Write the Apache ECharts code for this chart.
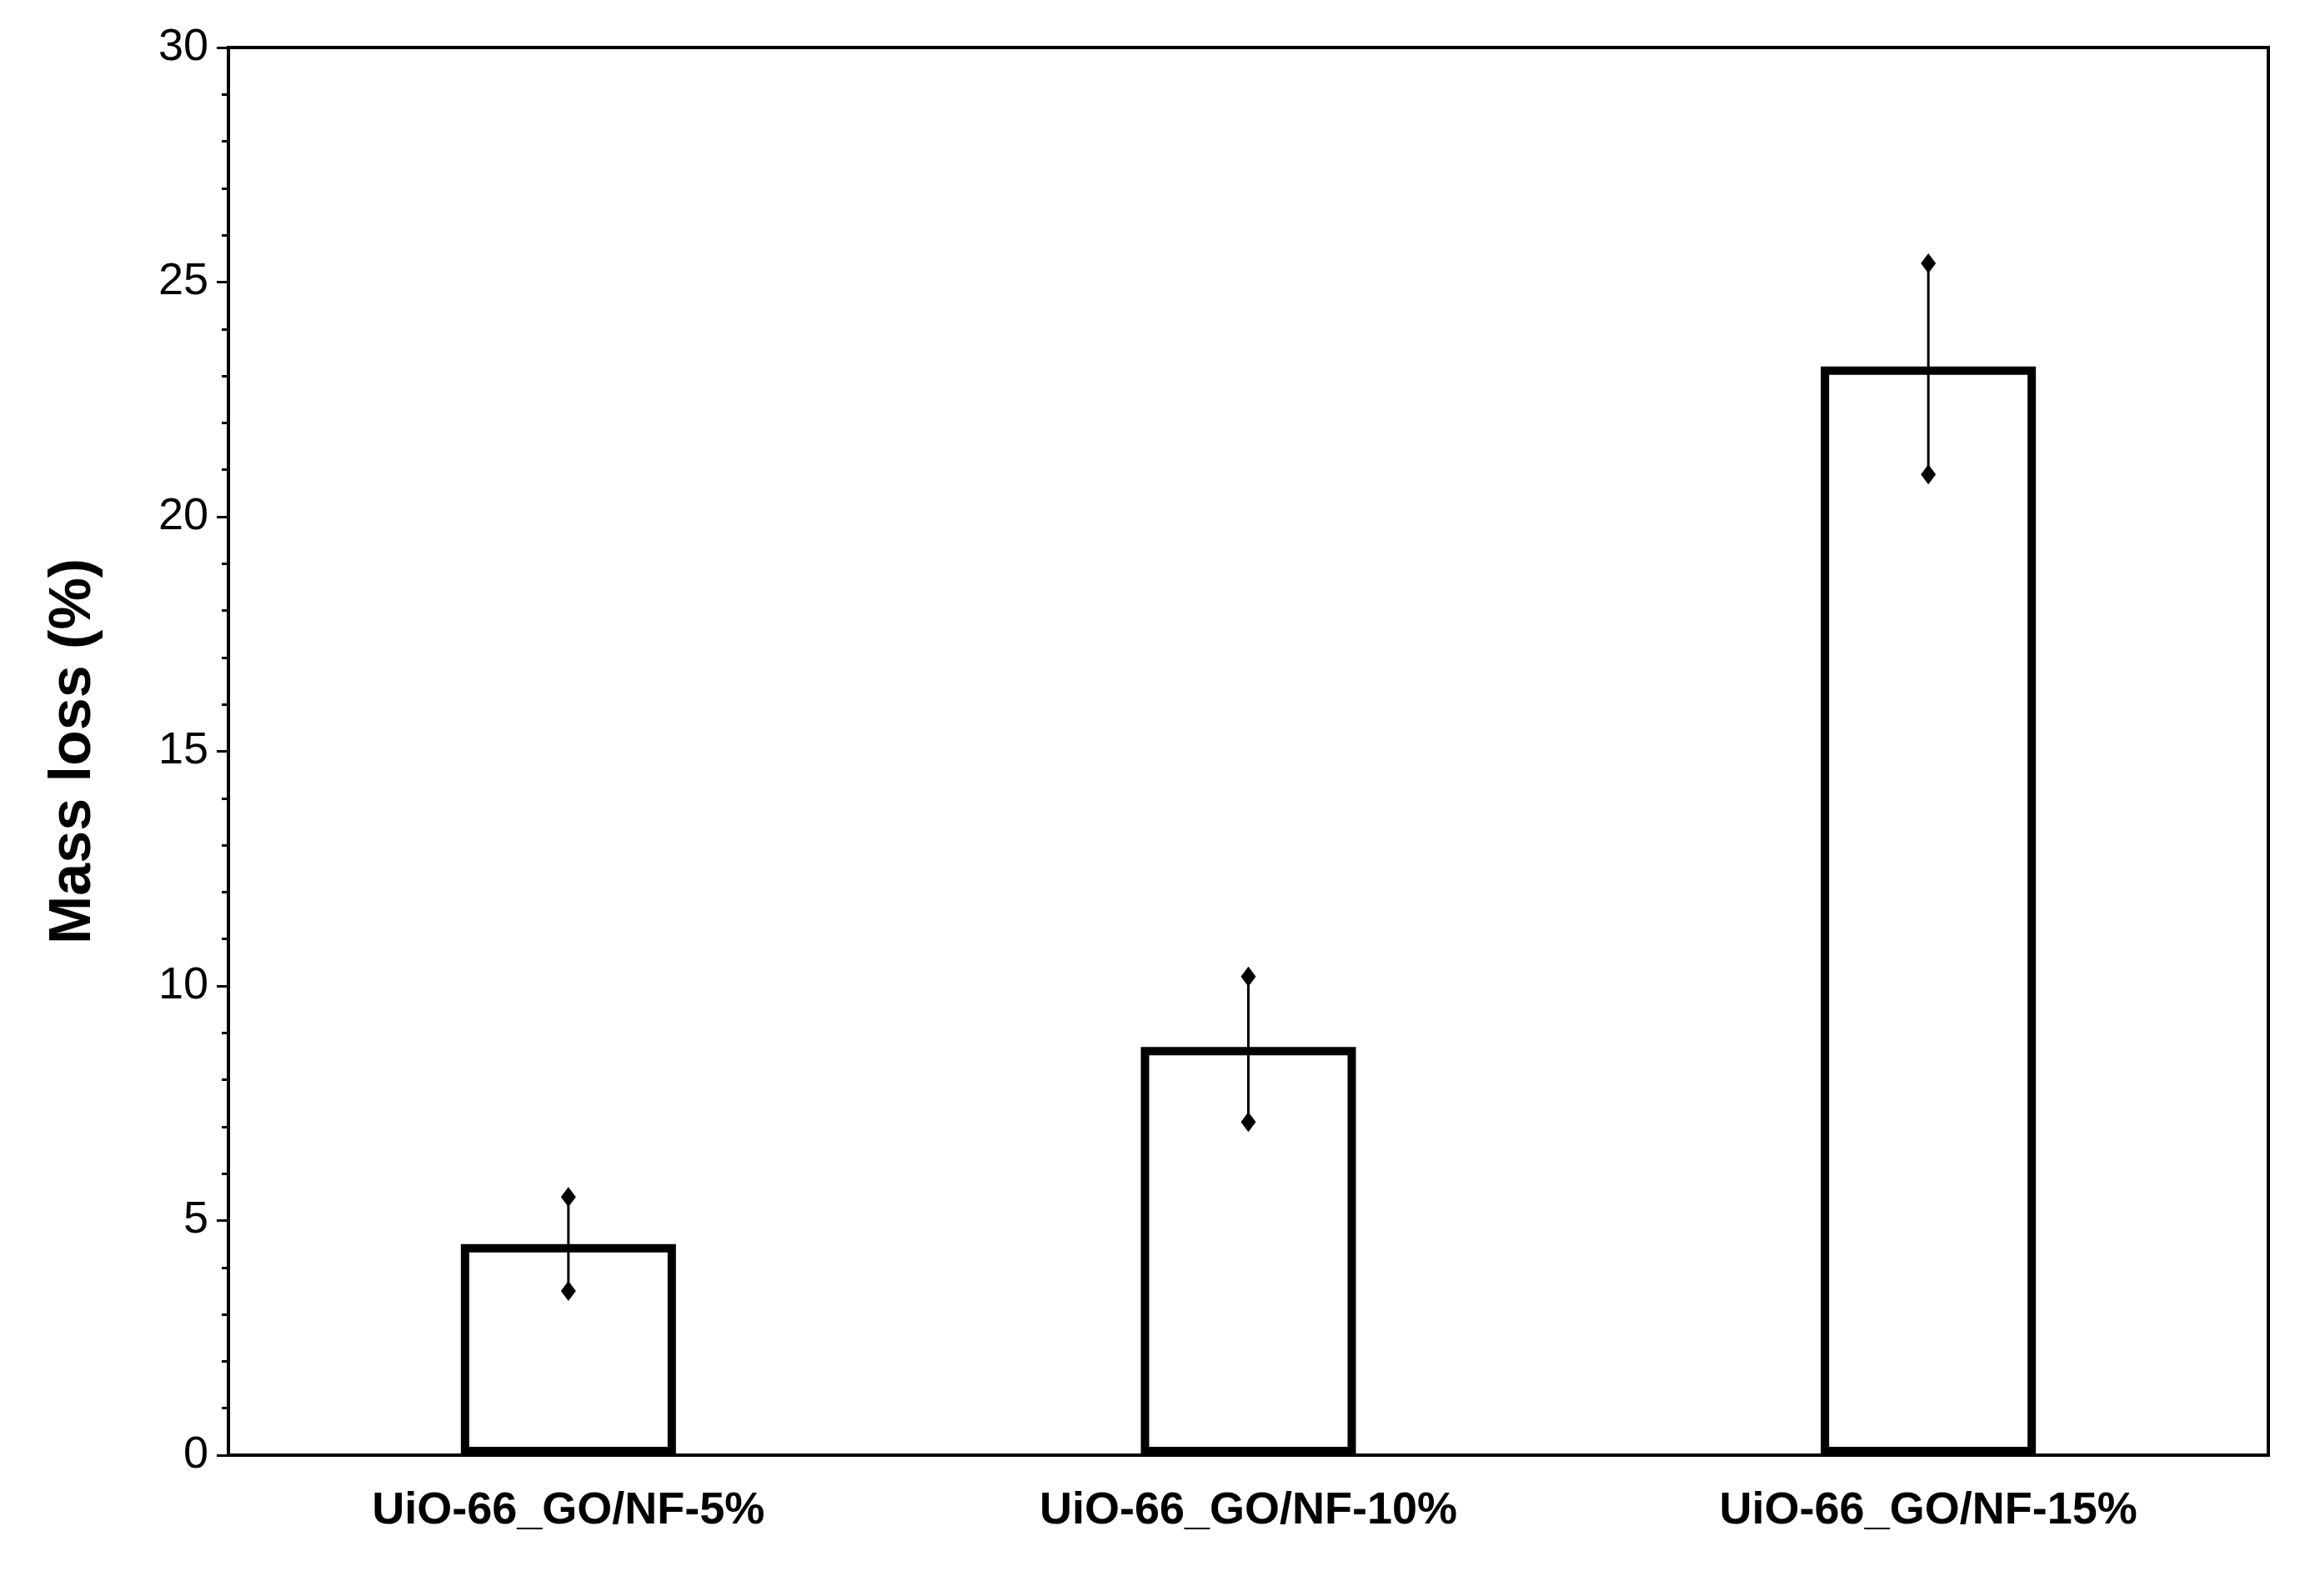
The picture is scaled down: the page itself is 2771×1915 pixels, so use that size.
<!DOCTYPE html>
<html>
<head>
<meta charset="utf-8">
<script src="https://cdn.jsdelivr.net/npm/echarts@6/dist/echarts.min.js"></script>
<style>
html, body { margin: 0; padding: 0; background: #fff; }
#chart { width: 2771px; height: 1915px; }
</style>
</head>
<body>
<div id="chart"></div>
<script>
var categories = ['UiO-66_GO/NF-5%', 'UiO-66_GO/NF-10%', 'UiO-66_GO/NF-15%'];
var massLoss = [4.5, 8.7, 23.2];
var errLow = [3.5, 7.1, 20.9];
var errHigh = [5.5, 10.2, 25.4];

var myChart = echarts.init(document.getElementById('chart'));

// 误差棒数据：[类别索引, 下限, 上限]
var errData = categories.map(function(c, i) {
	return [i, errLow[i], errHigh[i]];
});

function renderErr(params, api) {
	var lo = api.coord([api.value(0), api.value(1)]);
	var hi = api.coord([api.value(0), api.value(2)]);
	var s = 12;
	function diamond(p) {
		return {
			type: 'polygon',
			shape: { points: [[p[0], p[1] - s], [p[0] + s * 0.75, p[1]], [p[0], p[1] + s], [p[0] - s * 0.75, p[1]]] },
			style: { fill: '#000' }
		};
	}
	return {
		type: 'group',
		children: [
			{ type: 'line', shape: { x1: lo[0], y1: lo[1], x2: hi[0], y2: hi[1] }, style: { stroke: '#000', lineWidth: 3 } },
			diamond(lo),
			diamond(hi)
		]
	};
}

var option = {
	animation: false,
	backgroundColor: '#fff',
	grid: { left: 274, right: 50, top: 57, bottom: 169, show: true, borderColor: '#000', borderWidth: 4 },
	xAxis: {
		type: 'category',
		data: categories,
		axisLine: { lineStyle: { color: '#000', width: 4 } },
		axisTick: { alignWithLabel: true, length: 14, lineStyle: { color: '#000', width: 3 } },
		axisLabel: {
			color: '#000', fontSize: 54, fontWeight: 'bold', margin: 40,
			fontFamily: '"Liberation Sans Narrow", "Liberation Sans", Arial, sans-serif'
		}
	},
	yAxis: {
		type: 'value',
		min: 0, max: 30, interval: 5,
		name: 'Mass loss (%)',
		nameLocation: 'middle',
		nameGap: 150,
		nameTextStyle: { color: '#000', fontSize: 70, fontWeight: 'bold', fontFamily: '"Liberation Sans", Arial, sans-serif' },
		axisLine: { show: true, lineStyle: { color: '#000', width: 4 } },
		axisTick: { show: true, length: 14, lineStyle: { color: '#000', width: 3 } },
		minorTick: { show: true, splitNumber: 5, length: 8, lineStyle: { color: '#000', width: 3 } },
		splitLine: { show: false },
		axisLabel: { color: '#000', fontSize: 54, margin: 24, fontFamily: '"Liberation Sans", Arial, sans-serif' }
	},
	series: [
		{
			type: 'bar',
			data: massLoss,
			barWidth: 258,
			itemStyle: { color: '#fff', borderColor: '#000', borderWidth: 10 }
		},
		{
			type: 'custom',
			data: errData,
			renderItem: renderErr,
			encode: { x: 0, y: [1, 2] },
			z: 10
		}
	]
};
myChart.setOption(option);
</script>
</body>
</html>
